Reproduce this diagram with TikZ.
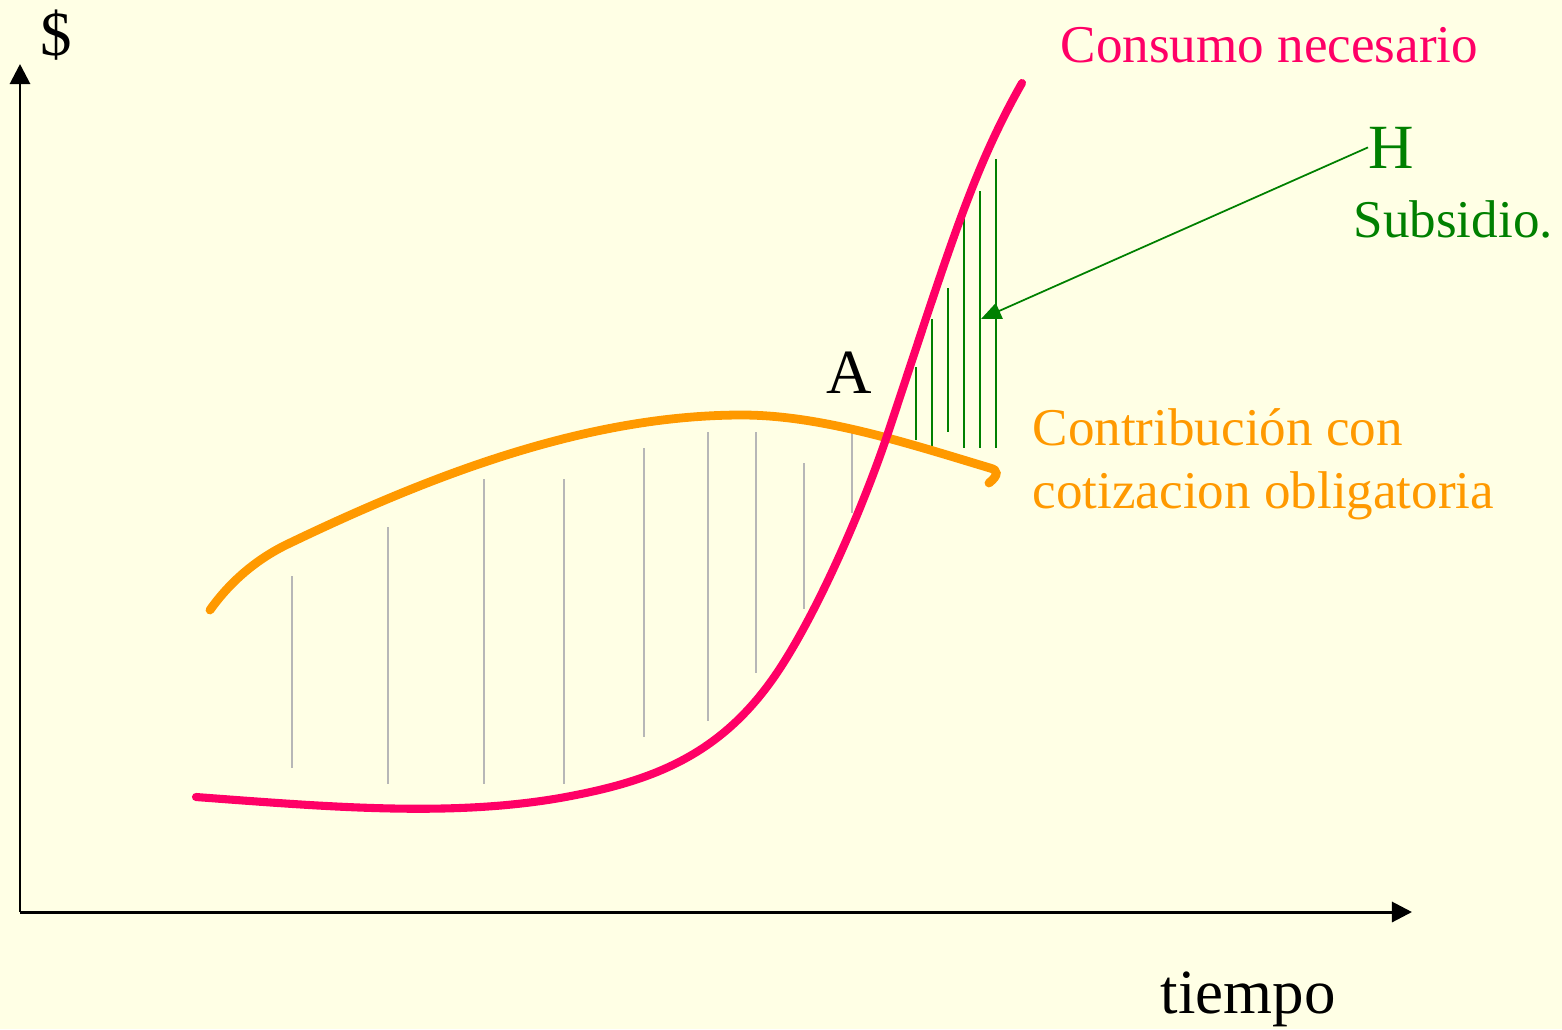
\documentclass[tikz,border=0pt]{standalone}
\usepackage{fontspec}
\setmainfont{Liberation Serif}
\usetikzlibrary{arrows.meta}

\definecolor{paper}{RGB}{255,255,229}
\definecolor{consumo}{RGB}{255,0,102}
\definecolor{contrib}{RGB}{255,153,0}
\definecolor{subsidio}{RGB}{0,128,0}
\definecolor{hatchgray}{RGB}{183,183,183}

\begin{document}
\begin{tikzpicture}[
    x=0.01cm, y=-0.01cm,
    axis/.style={line width=0.85pt, -{Triangle[length=5.7pt, width=5.7pt]}},
    big/.style={font=\fontsize{17.9}{21}\selectfont, inner sep=0pt, anchor=base west},
    small/.style={font=\fontsize{15.1}{17.9}\selectfont, inner sep=0pt, anchor=base west},
    pinkline/.style={consumo, line width=2.3pt, line cap=round},
    orangeline/.style={contrib, line width=2.5pt, line cap=round},
    grayhatch/.style={hatchgray, line width=0.55pt},
    greenhatch/.style={subsidio, line width=0.55pt},
    pointer/.style={subsidio, line width=0.5pt, -{Triangle[length=5.7pt, width=4.8pt]}}
]

% Background
\fill[paper] (0,0) rectangle (1562,1029);
\useasboundingbox (0,0) rectangle (1562,1029);

% Axes
\coordinate (origin) at (20,912);
\coordinate (ytip) at (20,64);
\coordinate (xtip) at (1412,912);
\draw[axis] (origin) -- (ytip);
\draw[axis] (origin) -- (xtip);
\node[big, anchor=base] (dollar) at (56,55) {\$};
\node[big] (tiempo) at (1160,1013) {tiempo};

% Contribution surplus
\foreach \x/\ya/\yb in {292/576/768, 388/527/784, 484/479/784, 564/479/784,
    644/448/737, 708/432/721, 756/432/673, 804/463/609, 852/433/513}
  \draw[grayhatch] (\x,\ya) -- (\x,\yb);

% Subsidy
\foreach \x/\ya/\yb in {916/367/440, 932/319/446, 948/288/432,
    964/207/448, 980/191/448, 996/159/448}
  \draw[greenhatch] (\x,\ya) -- (\x,\yb);

% Contribution curve
\draw[orangeline] (210,610) .. controls (232,579) and (260,557) .. (290,543)
    .. controls (440,471) and (592,415) .. (742,415)
    .. controls (822,415) and (910,444) .. (990,468)
    .. controls (998,470) and (999,475) .. (989,483);

% Consumption curve
\draw[pinkline] (196,797) .. controls (330,807) and (450,817) .. (560,798)
    .. controls (650,782) and (717,757) .. (772,680)
    .. controls (812,624) and (861,514) .. (889,430)
    .. controls (949,250) and (972,171) .. (1022,83);

% Labels
\node[small, text=consumo] (consumolabel) at (1060,62) {Consumo necesario};
\node[big, text=subsidio] (hlabel) at (1368,168) {H};
\node[small, text=subsidio] (subsidiolabel) at (1353,237) {Subsidio.};
\node[big] (alabel) at (826,393) {A};
\node[small, text=contrib, align=left] (contriblabel) at (1032,508) {Contribución con\\cotizacion obligatoria};

% Pointer to subsidy
\coordinate (hatchpoint) at (981,319);
\draw[pointer] (hlabel.west) -- (hatchpoint);

\end{tikzpicture}
\end{document}
